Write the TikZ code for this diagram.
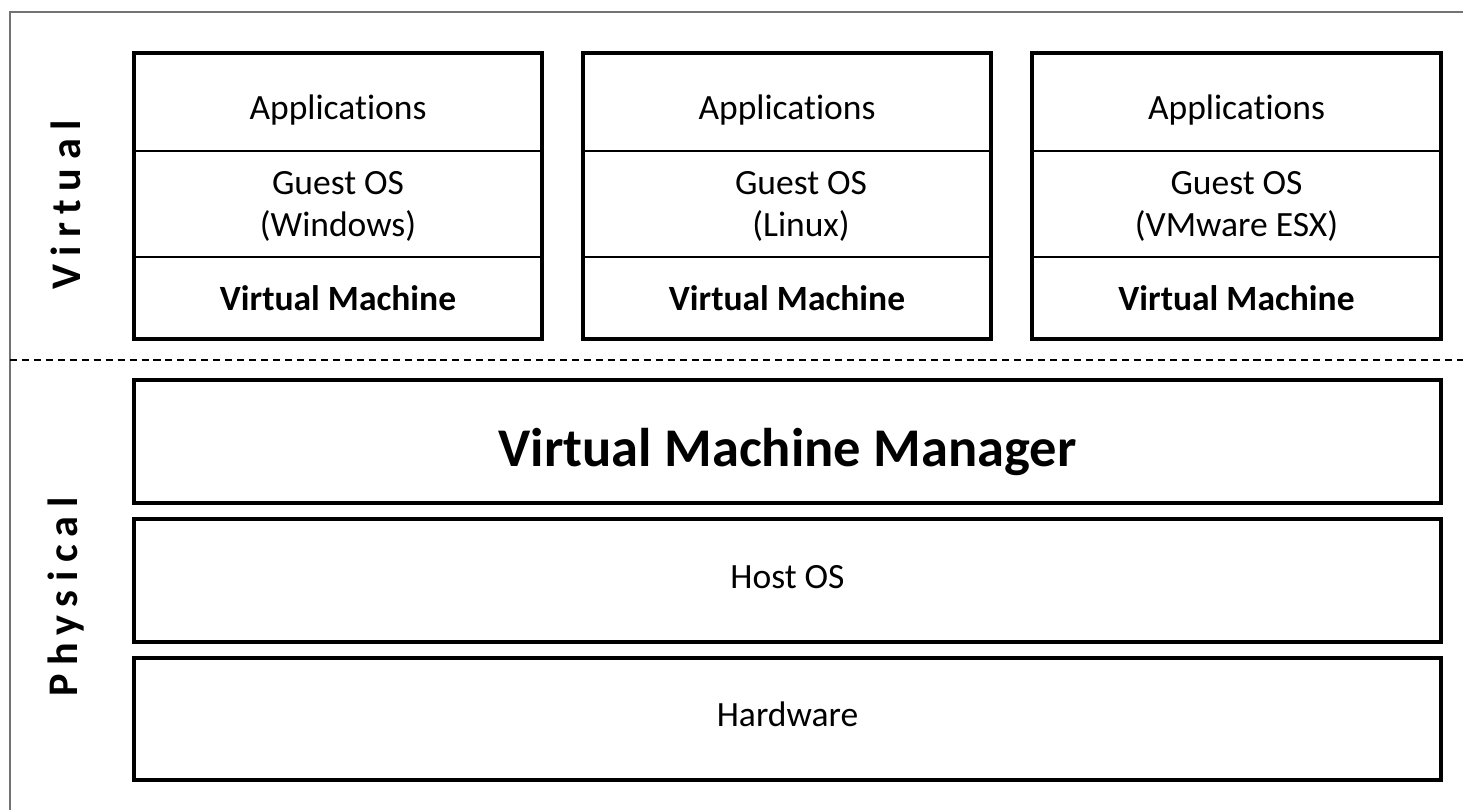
\documentclass[tikz,border=0pt]{standalone}
\usepackage{fontspec}
\setmainfont{Carlito}[Ligatures=CommonOff]
\usetikzlibrary{positioning,fit}

\begin{document}
\begin{tikzpicture}[x=0.01cm, y=-0.01cm,
    frame/.style={draw=black!55, line width=0.45pt},
    split/.style={draw, dash pattern=on 2pt off 1.4pt, line width=0.4pt},
    cell/.style={draw, line width=0.5pt, minimum width=4.08cm, inner sep=0pt, outer sep=0pt,
      align=center, font=\fontsize{10.1}{12}\selectfont},
    vmbox/.style={draw, line width=1.15pt, inner sep=0pt},
    layer/.style={draw, line width=1.15pt, minimum width=13.07cm, inner sep=0pt, outer sep=0pt,
      font=\fontsize{10.1}{12}\selectfont},
    side/.style={rotate=90, font=\fontsize{12}{14}\selectfont\bfseries\addfontfeature{LetterSpace=20}}
  ]
  \useasboundingbox (0,0) rectangle (1463,810);

  % open frame and the virtual/physical split
  \draw[frame] (10,810) -- (10,12) -- (1463,12);
  \draw[split] (10,360) -- (1463,360);

  \node[side] (virt) at (66,205) {Virtual};
  \node[side] (phys) at (66,597) {Physical};

  % guest machines
  \foreach \n/\cx/\os/\sh in {1/338/Windows/0, 2/787/Linux/14, 3/1236.5/VMware ESX/0} {
    \node[cell, minimum height=0.98cm, text height=0.44cm, text depth=0.08cm] (app\n) at (\cx,102) {Applications};
    \node[cell, minimum height=1.06cm, below=0pt of app\n] (guest\n) {};
    \node[align=center, font=\fontsize{10.1}{12}\selectfont, xshift=\sh*0.01cm, yshift=-0.02cm] (gtext\n) at (guest\n) {Guest OS\\(\os)};
    \node[cell, minimum height=0.82cm, below=0pt of guest\n, font=\fontsize{10.1}{12}\selectfont\bfseries] (vm\n) {Virtual Machine};
    \node[vmbox, fit=(app\n)(vm\n)] (box\n) {};
  }

  % host stack
  \node[layer, minimum height=1.22cm, text height=0.62cm, text depth=0.12cm,
    font=\fontsize{15.5}{18}\selectfont\bfseries] (vmm) at (787.5,441.5) {Virtual Machine Manager};
  \node[layer, minimum height=1.23cm, text height=0.25cm, text depth=0.08cm, below=0.16cm of vmm] (host) {Host OS};
  \node[layer, minimum height=1.22cm, text height=0.23cm, text depth=0.08cm, below=0.16cm of host] (hw) {Hardware};
\end{tikzpicture}
\end{document}
